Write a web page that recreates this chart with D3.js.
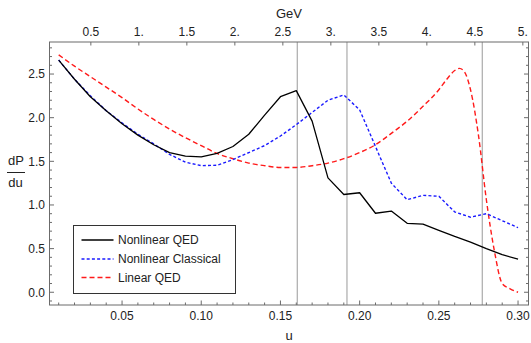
<!DOCTYPE html>
<html><head><meta charset="utf-8">
<script src="https://cdn.jsdelivr.net/npm/d3@7"></script>
<style>body{margin:0;background:#fff}svg{display:block;font-family:Arial,"Liberation Sans",sans-serif}</style>
</head><body><svg id="c" width="531" height="343"></svg>
<script>
// ---- data ----
const uGrid = [0.01,0.02,0.03,0.04,0.05,0.06,0.07,0.08,0.09,0.10,0.11,0.12,0.13,0.14,0.15,0.16,0.17,0.18,0.19,0.20,0.21,0.22,0.23,0.24,0.25,0.26,0.27,0.28,0.29,0.30];
const nonlinearQED = [2.66,2.44,2.24,2.08,1.93,1.80,1.69,1.60,1.56,1.55,1.59,1.67,1.81,2.03,2.24,2.31,1.96,1.31,1.12,1.14,0.905,0.93,0.79,0.78,0.71,0.64,0.575,0.50,0.43,0.38];
const nonlinearClassical = [2.66,2.44,2.25,2.08,1.94,1.81,1.70,1.58,1.49,1.45,1.455,1.52,1.60,1.68,1.79,1.92,2.06,2.20,2.26,2.09,1.67,1.25,1.06,1.11,1.10,0.92,0.86,0.90,0.82,0.74];
const uLinear = [0.01,0.02,0.03,0.04,0.05,0.06,0.07,0.08,0.09,0.10,0.11,0.12,0.13,0.14,0.15,0.16,0.17,0.18,0.19,0.20,0.21,0.22,0.23,0.24,0.25,0.255,0.26,0.263,0.266,0.27,0.275,0.28,0.285,0.29,0.295,0.30];
const linearQED = [2.72,2.59,2.47,2.35,2.23,2.10,1.98,1.87,1.77,1.68,1.59,1.53,1.48,1.45,1.43,1.43,1.45,1.48,1.53,1.60,1.69,1.82,1.96,2.13,2.32,2.44,2.54,2.565,2.53,2.32,1.80,1.06,0.48,0.10,0.04,0.0];
const gridU = [0.1606,0.192,0.2774];
const xTickLabels = ["0.05","0.10","0.15","0.20","0.25","0.30"];
const yTickLabels = ["0.0","0.5","1.0","1.5","2.0","2.5"];
const gevTickLabels = ["0.5","1.","1.5","2.","2.5","3.","3.5","4.","4.5","5."];
const legendNames = ["Nonlinear QED","Nonlinear Classical","Linear QED"];
const gevPerU = 16.5;

// ---- layout ----
const L=49.5, R=528.5, T=42, B=305;
const svg = d3.select("#c");
const x = d3.scaleLinear().domain([0.0042,0.3066]).range([L,R]);
const y = d3.scaleLinear().domain([-0.146,2.867]).range([B,T]);
const xg = d3.scaleLinear().domain(x.domain().map(d=>d*gevPerU)).range([L,R]);

const frameCol="#6b6b6b", textCol="#222";

// grid lines
svg.append("g").selectAll("line").data(gridU).join("line")
  .attr("x1",d=>x(d)).attr("x2",d=>x(d)).attr("y1",T).attr("y2",B)
  .attr("stroke","#9a9a9a").attr("stroke-width",1);

// curves
const clip = svg.append("clipPath").attr("id","pc").append("rect")
  .attr("x",L).attr("y",T).attr("width",R-L).attr("height",B-T);
const g = svg.append("g").attr("clip-path","url(#pc)");
const lin = d3.line().x(d=>x(d[0])).y(d=>y(d[1]));
const smooth = d3.line().x(d=>x(d[0])).y(d=>y(d[1])).curve(d3.curveMonotoneX);
const styles = [
  {col:"#000",dash:null,w:1.3},
  {col:"#1a1aff",dash:"3,2.2",w:1.4},
  {col:"#ff1a1a",dash:"5,3",w:1.4}
];
g.append("path").attr("d",lin(uLinear.map((u,i)=>[u,linearQED[i]]))).attr("d",smooth(uLinear.map((u,i)=>[u,linearQED[i]])))
  .attr("fill","none").attr("stroke",styles[2].col).attr("stroke-width",styles[2].w).attr("stroke-dasharray",styles[2].dash);
g.append("path").attr("d",lin(uGrid.map((u,i)=>[u,nonlinearClassical[i]])))
  .attr("fill","none").attr("stroke",styles[1].col).attr("stroke-width",styles[1].w).attr("stroke-dasharray",styles[1].dash);
g.append("path").attr("d",lin(uGrid.map((u,i)=>[u,nonlinearQED[i]])))
  .attr("fill","none").attr("stroke",styles[0].col).attr("stroke-width",styles[0].w).attr("stroke-linejoin","round");

// frame
svg.append("rect").attr("x",L).attr("y",T).attr("width",R-L).attr("height",B-T)
  .attr("fill","none").attr("stroke",frameCol).attr("stroke-width",1);

// ticks
const tk = svg.append("g").attr("stroke",frameCol).attr("stroke-width",1);
const xMinor = d3.range(1,31).map(i=>i/100);
xMinor.forEach((u,i)=>{
  const major = (i+1)%5===0;
  const len = major?4.5:2.5;
  tk.append("line").attr("x1",x(u)).attr("x2",x(u)).attr("y1",B).attr("y2",B-len);
  tk.append("line").attr("x1",x(u)).attr("x2",x(u)).attr("y1",T).attr("y2",T+len*0).attr("opacity",0);
});
const yMinor = d3.range(-1,29).map(i=>i/10);
yMinor.forEach((v,i)=>{
  const major = Math.abs(Math.round(v*10))%5===0;
  const len = major?4.5:2.5;
  tk.append("line").attr("x1",L).attr("x2",L+len).attr("y1",y(v)).attr("y2",y(v));
  tk.append("line").attr("x1",R).attr("x2",R-len).attr("y1",y(v)).attr("y2",y(v));
});
gevTickLabels.forEach(s=>{
  const gv=+s;
  tk.append("line").attr("x1",xg(gv)).attr("x2",xg(gv)).attr("y1",T).attr("y2",T+3.5);
});

// labels
const lab = svg.append("g").attr("fill",textCol).attr("font-size",12);
xTickLabels.forEach(s=>lab.append("text").attr("x",x(+s)).attr("y",319.5).attr("text-anchor","middle").text(s));
yTickLabels.forEach(s=>lab.append("text").attr("x",45).attr("y",y(+s)+4.3).attr("text-anchor","end").text(s));
gevTickLabels.forEach(s=>lab.append("text").attr("x",xg(+s)).attr("y",36).attr("text-anchor","middle").text(s));
lab.append("text").attr("x",(L+R)/2).attr("y",17.5).attr("text-anchor","middle").attr("font-size",13).text("GeV");
lab.append("text").attr("x",(L+R)/2).attr("y",340).attr("text-anchor","middle").attr("font-size",13).text("u");
lab.append("text").attr("x",16).attr("y",165).attr("text-anchor","middle").attr("font-size",13).text("dP");
svg.append("line").attr("x1",7).attr("x2",25).attr("y1",172.5).attr("y2",172.5).attr("stroke",textCol).attr("stroke-width",1);
lab.append("text").attr("x",15.5).attr("y",187).attr("text-anchor","middle").attr("font-size",13).text("du");

// legend
const lg = svg.append("g");
lg.append("rect").attr("x",73.5).attr("y",225.5).attr("width",162).attr("height",68)
  .attr("fill","#fff").attr("stroke","#333").attr("stroke-width",1);
const rowY=[240,259,277.5];
legendNames.forEach((n,i)=>{
  const s=styles[i];
  lg.append("line").attr("x1",81.5).attr("x2",113.5).attr("y1",rowY[i]).attr("y2",rowY[i])
    .attr("stroke",s.col).attr("stroke-width",s.w).attr("stroke-dasharray",s.dash);
  lg.append("text").attr("x",118).attr("y",rowY[i]+4.3).attr("font-size",12).attr("fill",textCol).text(n);
});
</script></body></html>
